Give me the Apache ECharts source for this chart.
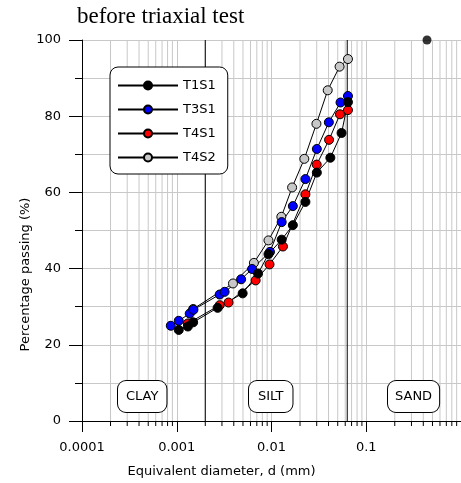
<!DOCTYPE html>
<html><head><meta charset="utf-8">
<script src="https://cdn.jsdelivr.net/npm/echarts@6/dist/echarts.min.js"></script>
<style>html,body{margin:0;padding:0;background:#fff}#c{width:461px;height:483px}</style>
</head><body><div id="c"></div>
<script>
// ---- data ----
const seriesNames = ['T1S1', 'T3S1', 'T4S1', 'T4S2'];
const t1s1_d = [0.00105, 0.00131, 0.00149, 0.00270, 0.00496, 0.00721, 0.00929, 0.0128, 0.0168, 0.0228, 0.0301, 0.0418, 0.0549, 0.0641];
const t1s1_p = [23.9, 24.8, 25.9, 29.7, 33.5, 38.7, 43.8, 47.6, 51.4, 57.5, 65.2, 69.1, 75.6, 83.7];
const t1s1_extra_d = [0.438];
const t1s1_extra_p = [100];
const t3s1_d = [0.000865, 0.00105, 0.00137, 0.00150, 0.00284, 0.00320, 0.00478, 0.00624, 0.00964, 0.0128, 0.0168, 0.0228, 0.0301, 0.0403, 0.0535, 0.0641];
const t3s1_p = [25.0, 26.3, 28.2, 29.2, 33.2, 33.9, 37.2, 39.9, 44.4, 52.2, 56.4, 63.5, 71.4, 78.4, 83.6, 85.3];
const t4s1_d = [0.00131, 0.00284, 0.00352, 0.00680, 0.00953, 0.0132, 0.0228, 0.0300, 0.0405, 0.0528, 0.0641];
const t4s1_p = [25.6, 30.4, 31.1, 36.9, 41.1, 45.8, 59.5, 67.3, 73.8, 80.5, 81.6];
const t4s2_d = [0.00149, 0.00392, 0.00652, 0.00929, 0.0127, 0.0165, 0.0222, 0.0298, 0.0392, 0.0523, 0.0641];
const t4s2_p = [29.4, 36.1, 41.5, 47.4, 53.6, 61.3, 68.8, 78.0, 86.8, 93.0, 95.0];
const boundaries = [0.002, 0.063];
const xTicks = [0.0001, 0.001, 0.01, 0.1, 1];
const yTicks = [0, 20, 40, 60, 80, 100];
const zoneLabels = ['CLAY', 'SILT', 'SAND'];
const minorMult = [2, 3, 4, 5, 6, 7, 8, 9];

const pairs = (d, p) => d.map((v, i) => [v, p[i]]);
const minorVals = [];
for (let k = 0; k < 4; k++) minorMult.forEach(m => minorVals.push(+(m * Math.pow(10, k - 4)).toPrecision(3)));

const FONT = 'DejaVu Sans';
const colors = { T1S1: '#000000', T3S1: '#0000ff', T4S1: '#ff0000', T4S2: '#c8c8c8' };

function lineSeries(name, data) {
  return {
    name, type: 'line', data,
    symbol: 'circle', symbolSize: 9,
    lineStyle: { color: '#000', width: 1 },
    itemStyle: { color: colors[name], borderColor: '#000', borderWidth: 1 },
    emphasis: { disabled: true },
    animation: false, z: 5
  };
}

function vLineSeries(name, vals, color, tick, z) {
  return {
    type: 'custom', name, silent: true, z, clip: false,
    data: vals.map(v => [v]),
    encode: { x: 0 },
    renderItem: (params, api) => {
      const v = api.value(0);
      const b = api.coord([v, yTicks[0]]);
      const t = api.coord([v, yTicks[yTicks.length - 1]]);
      const children = [
        { type: 'line', shape: { x1: b[0], y1: b[1], x2: t[0], y2: t[1] }, style: { stroke: color, lineWidth: 1 } }
      ];
      if (tick) children.push({ type: 'line', shape: { x1: b[0], y1: b[1], x2: b[0], y2: b[1] + 5 }, style: { stroke: '#000', lineWidth: 1 } });
      return { type: 'group', children };
    }
  };
}

const chart = echarts.init(document.getElementById('c'), null, { renderer: 'canvas' });
const option = {
  animation: false,
  backgroundColor: '#fff',
  textStyle: { fontFamily: FONT },
  title: {
    text: 'before triaxial test', left: 72, top: 0,
    textStyle: { fontFamily: 'Liberation Serif', fontSize: 23, fontWeight: 'normal', color: '#000' }
  },
  grid: { left: 82, top: 40, width: 380, height: 381 },
  legend: {
    data: seriesNames, orient: 'vertical', left: 110, top: 67,
    backgroundColor: '#fff', borderColor: '#000', borderWidth: 1, borderRadius: 8,
    padding: [12, 12, 10, 7], itemGap: 11, itemWidth: 60, itemHeight: 10,
    textStyle: { fontFamily: FONT, fontSize: 13, color: '#000' }
  },
  xAxis: {
    type: 'log', logBase: 10, min: xTicks[0], max: xTicks[xTicks.length - 1],
    name: 'Equivalent diameter, d (mm)', nameLocation: 'middle', nameGap: 44, nameMoveOverlap: false,
    nameTextStyle: { fontFamily: FONT, fontSize: 13, color: '#000', padding: [0, 100, 0, 0] },
    axisLine: { lineStyle: { color: '#000', width: 1 } },
    axisTick: { show: true, length: 11, lineStyle: { color: '#000' } },
    axisLabel: { fontFamily: FONT, fontSize: 13, color: '#000', margin: 20, showMaxLabel: false,
      formatter: v => String(+(+v).toPrecision(1)) },
    splitLine: { show: true, lineStyle: { color: '#c8c8c8', width: 1 } }
  },
  yAxis: {
    type: 'value', min: yTicks[0], max: yTicks[yTicks.length - 1], interval: 20,
    name: 'Percentage passing (%)', nameLocation: 'middle', nameGap: 50, nameMoveOverlap: false,
    nameTextStyle: { fontFamily: FONT, fontSize: 13, color: '#000', padding: [0, 88, 0, 0] },
    axisLine: { show: true, lineStyle: { color: '#000', width: 1 } },
    axisTick: { show: true, length: 13, lineStyle: { color: '#000' } },
    minorTick: { show: true, splitNumber: 2, length: 7, lineStyle: { color: '#000' } },
    axisLabel: { fontFamily: FONT, fontSize: 13, color: '#000', margin: 21 },
    splitLine: { show: true, lineStyle: { color: '#c8c8c8', width: 1 } },
    minorSplitLine: { show: true, lineStyle: { color: '#c8c8c8', width: 1 } }
  },
  series: [
    vLineSeries('minor', minorVals, '#c8c8c8', true, 1),
    vLineSeries('boundary', boundaries, '#000', false, 2),
    lineSeries('T4S2', pairs(t4s2_d, t4s2_p)),
    lineSeries('T4S1', pairs(t4s1_d, t4s1_p)),
    lineSeries('T3S1', pairs(t3s1_d, t3s1_p)),
    lineSeries('T1S1', pairs(t1s1_d, t1s1_p)),
    {
      type: 'scatter', name: 'T1S1 extra', data: pairs(t1s1_extra_d, t1s1_extra_p),
      symbol: 'circle', symbolSize: 9, itemStyle: { color: '#000' }, z: 6, clip: false
    }
  ],
  graphic: [
    { type: 'text', left: 117, top: 380, z: 10, style: { text: zoneLabels[0], font: '13px "DejaVu Sans"', fill: '#000', backgroundColor: '#fff', borderColor: '#000', borderWidth: 1, borderRadius: 8, padding: [9, 8, 9, 8] } },
    { type: 'text', left: 248, top: 380, z: 10, style: { text: zoneLabels[1], font: '13px "DejaVu Sans"', fill: '#000', backgroundColor: '#fff', borderColor: '#000', borderWidth: 1, borderRadius: 8, padding: [9, 9, 9, 9] } },
    { type: 'text', left: 387, top: 380, z: 10, style: { text: zoneLabels[2], font: '13px "DejaVu Sans"', fill: '#000', backgroundColor: '#fff', borderColor: '#000', borderWidth: 1, borderRadius: 8, padding: [9, 7, 9, 7] } }
  ]
};
chart.setOption(option);
</script>
</body></html>
